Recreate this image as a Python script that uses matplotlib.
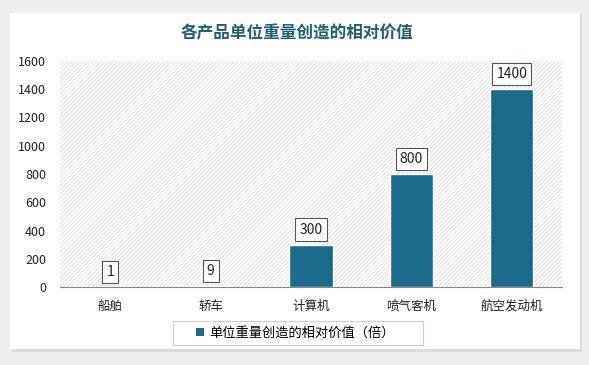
import matplotlib.pyplot as plt
import matplotlib.patches as mpatches
import numpy as np

plt.rcParams['font.family'] = ['Noto Sans CJK SC', 'DejaVu Sans']
plt.rcParams['hatch.linewidth'] = 0.5

# 数据
categories = ['船舶', '轿车', '计算机', '喷气客机', '航空发动机']
values = [1, 9, 300, 800, 1400]
series_name = '单位重量创造的相对价值（倍）'
title = '各产品单位重量创造的相对价值'
yticks = [0, 200, 400, 600, 800, 1000, 1200, 1400, 1600]

W, H = 589, 365
fig = plt.figure(figsize=(W / 100, H / 100), dpi=100)
fig.patch.set_facecolor('#eeeeee')

# 白色卡片 + 阴影
fig.patches.append(mpatches.Rectangle((12 / W, 1 - 352 / H), 570 / W, 338 / H,
                                      transform=fig.transFigure, facecolor='#dcdcdc',
                                      edgecolor='none', zorder=-2))
fig.patches.append(mpatches.Rectangle((10 / W, 1 - 349 / H), 570 / W, 336 / H,
                                      transform=fig.transFigure, facecolor='white',
                                      edgecolor='none', zorder=-1))

ax = fig.add_axes([60 / W, 1 - 287 / H, 502 / W, 226 / H])
ax.set_facecolor('none')

# 斜线背景
ax.add_patch(mpatches.Rectangle((0, 0), 1, 1, transform=ax.transAxes, facecolor='white',
                                edgecolor='#d6d6d6', hatch='////////', linewidth=0, zorder=0))

x = np.arange(len(categories))
bars = ax.bar(x, values, width=0.43, color='#1c6b8c', edgecolor='white', linewidth=1, zorder=2)

for xi, v in zip(x, values):
    ax.annotate(str(v), (xi, v), xytext=(0, 15), textcoords='offset pixels',
                ha='center', va='center', fontsize=10, color='#222222', zorder=3,
                bbox=dict(boxstyle='square,pad=0.3', facecolor='white', edgecolor='#4a5a60', linewidth=0.8))

ax.set_xlim(-0.5, len(categories) - 0.5)
ax.set_ylim(0, 1600)
ax.set_yticks(yticks)
ax.set_xticks(x)
ax.set_xticklabels(categories)
ax.tick_params(axis='both', length=0, labelsize=9, colors='#222222')
ax.tick_params(axis='x', pad=9)
ax.tick_params(axis='y', pad=10)
for s in ['top', 'right', 'left']:
    ax.spines[s].set_visible(False)
ax.spines['bottom'].set_color('#888888')
ax.spines['bottom'].set_linewidth(0.8)

fig.text(297 / W, 1 - 33 / H, title, ha='center', va='center', fontsize=12,
         fontweight='bold', color='#1f5f7a')

# 图例
fig.patches.append(mpatches.Rectangle((173 / W, 1 - 345 / H), 250 / W, 24 / H,
                                      transform=fig.transFigure, facecolor='white',
                                      edgecolor='#d0d0d0', linewidth=0.8, zorder=1))
handle = mpatches.Patch(facecolor='#1c6b8c', edgecolor='none', label=series_name)
leg = fig.legend(handles=[handle], loc='center left', bbox_to_anchor=(196 / W, 1 - 333 / H),
                 frameon=False, fontsize=9.5, handlelength=0.6, handleheight=0.6,
                 handletextpad=0.4, borderpad=0, borderaxespad=0)

fig.savefig('out.png', dpi=100, facecolor=fig.get_facecolor())
